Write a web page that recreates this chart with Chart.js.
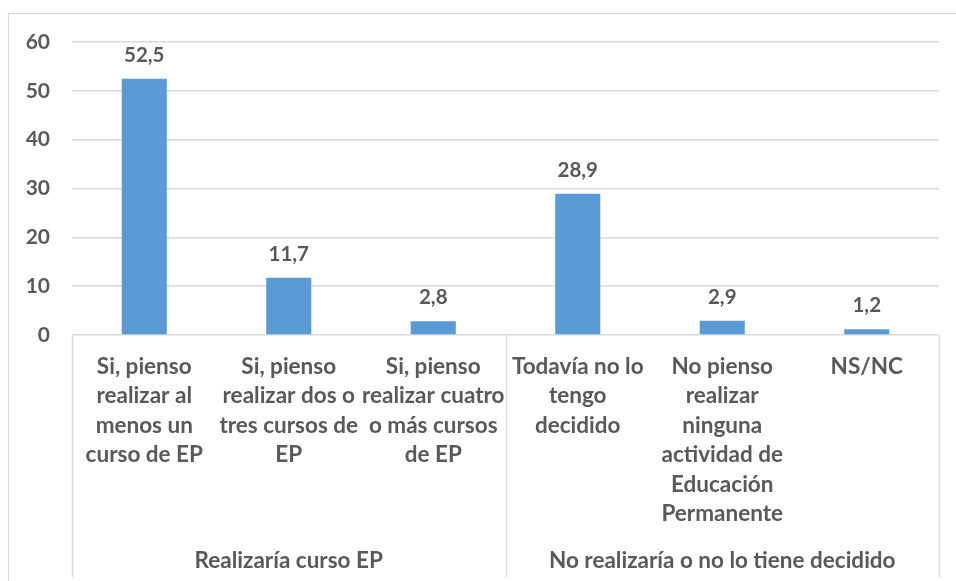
<!DOCTYPE html>
<html>
<head>
<meta charset="utf-8">
<script src="https://cdn.jsdelivr.net/npm/chart.js@4.4.1/dist/chart.umd.min.js"></script>
<style>
  html, body { margin: 0; padding: 0; background: #ffffff; }
  #wrap { width: 956px; height: 581px; position: relative; }
</style>
</head>
<body>
<div id="wrap"><canvas id="c" width="956" height="581"></canvas></div>
<script>
// Response categories (wrapped as they appear under each bar)
const categories = [
  ["Si, pienso", "realizar al", "menos un", "curso de EP"],
  ["Si, pienso", "realizar dos o", "tres cursos de", "EP"],
  ["Si, pienso", "realizar cuatro", "o más cursos", "de EP"],
  ["Todavía no lo", "tengo", "decidido"],
  ["No pienso", "realizar", "ninguna", "actividad de", "Educación", "Permanente"],
  ["NS/NC"]
];
// Percentage of respondents
const values = [52.5, 11.7, 2.8, 28.9, 2.9, 1.2];
// Outer category groups: label and how many categories each spans
const groupLabels = ["Realizaría curso EP", "No realizaría o no lo tiene decidido"];
const groupSizes = [3, 3];
// Value axis
const yMin = 0, yMax = 60, yStep = 10;

const TEXT = "#595959";
const GRID = "#d9d9d9";
const FONT = "Lato, 'Open Sans', sans-serif";

const fmt = v => v.toFixed(1).replace(".", ",");

// Frame, two-level category axis and value labels
const decorations = {
  id: "decorations",
  beforeDraw(chart) {
    const ctx = chart.ctx;
    ctx.save();
    ctx.fillStyle = "#ffffff";
    ctx.fillRect(0, 0, chart.width, chart.height);
    // outer frame
    ctx.strokeStyle = GRID;
    ctx.lineWidth = 1.2;
    ctx.beginPath();
    ctx.moveTo(8.5, chart.height);
    ctx.lineTo(8.5, 13.5);
    ctx.lineTo(chart.width, 13.5);
    ctx.stroke();
    ctx.restore();
  },
  afterDraw(chart) {
    const ctx = chart.ctx;
    const x = chart.scales.x;
    const y = chart.scales.y;
    const area = chart.chartArea;
    const meta = chart.getDatasetMeta(0);
    ctx.save();

    // value labels above bars
    ctx.fillStyle = TEXT;
    ctx.font = "bold 20.5px " + FONT;
    ctx.textAlign = "center";
    ctx.textBaseline = "alphabetic";
    meta.data.forEach((bar, i) => {
      ctx.fillText(fmt(values[i]), bar.x, y.getPixelForValue(values[i]) - 17);
    });

    // category labels
    ctx.font = "bold 22.5px " + FONT;
    const lineH = 29.4;
    const firstBase = area.bottom + 39;
    categories.forEach((lines, i) => {
      const cx = x.getPixelForValue(i);
      lines.forEach((t, k) => ctx.fillText(t, cx, firstBase + k * lineH));
    });

    // group separators and labels
    const half = (x.getPixelForValue(1) - x.getPixelForValue(0)) / 2;
    ctx.strokeStyle = GRID;
    ctx.lineWidth = 1.5;
    let start = 0;
    const bounds = [];
    groupSizes.forEach((n, g) => {
      const left = x.getPixelForValue(start) - half;
      const right = x.getPixelForValue(start + n - 1) + half;
      bounds.push(left);
      if (g === groupSizes.length - 1) bounds.push(right);
      ctx.fillText(groupLabels[g], (left + right) / 2, area.bottom + 233);
      start += n;
    });
    bounds.forEach(bx => {
      ctx.beginPath();
      ctx.moveTo(Math.round(bx) + 0.5, area.bottom);
      ctx.lineTo(Math.round(bx) + 0.5, area.bottom + 242);
      ctx.stroke();
    });
    ctx.restore();
  }
};

new Chart(document.getElementById("c"), {
  type: "bar",
  data: {
    labels: categories,
    datasets: [{
      data: values,
      backgroundColor: "#5b9bd5",
      borderWidth: 0,
      barPercentage: 0.312,
      categoryPercentage: 1
    }]
  },
  options: {
    responsive: false,
    animation: false,
    devicePixelRatio: 1,
    layout: { padding: { top: 42, right: 17, bottom: 246, left: 0 } },
    plugins: { legend: { display: false }, tooltip: { enabled: false } },
    scales: {
      x: {
        display: false,
        grid: { display: false }
      },
      y: {
        min: yMin,
        max: yMax,
        afterFit(scale) { scale.width = 72; },
        border: { display: false },
        grid: { color: GRID, lineWidth: 1.5, drawTicks: false },
        ticks: {
          stepSize: yStep,
          padding: 22,
          color: TEXT,
          font: { family: FONT, size: 21, weight: "bold" }
        }
      }
    }
  },
  plugins: [decorations]
});
</script>
</body>
</html>
